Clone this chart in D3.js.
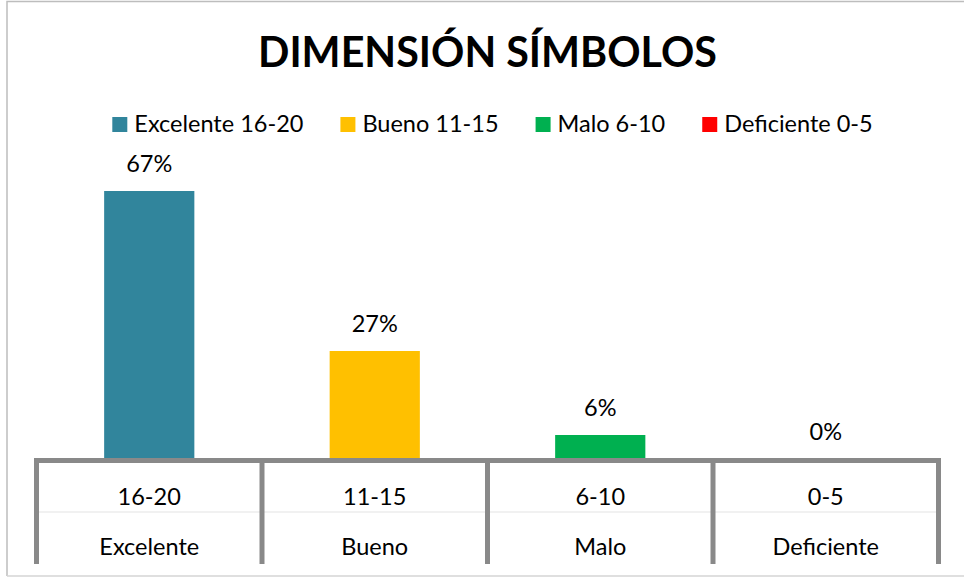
<!DOCTYPE html>
<html>
<head>
<meta charset="utf-8">
<script src="https://cdn.jsdelivr.net/npm/d3@7"></script>
<style>
  body { margin: 0; background: #fff; }
  svg { display: block; font-family: Lato, "Liberation Sans", sans-serif; }
</style>
</head>
<body>
<svg id="chart" width="964" height="577"></svg>
<script>
// datos
const titulo = 'DIMENSIÓN SÍMBOLOS'
const rangos = ['16-20', '11-15', '6-10', '0-5']
const niveles = ['Excelente', 'Bueno', 'Malo', 'Deficiente']
const porcentajes = [0.67, 0.27, 0.06, 0]
const colores = ['#31859C', '#FFC000', '#00B050', '#FF0000']

const svg = d3.select('#chart')
const fs = 23.5

// borde del area del grafico
svg.append('path')
    .attr('d', 'M7,576 L7,1.5 L964,1.5')
    .attr('fill', 'none')
    .attr('stroke', '#bdbdbd')
    .attr('stroke-width', 1.5)
svg.append('line')
    .attr('x1', 7).attr('x2', 964)
    .attr('y1', 576).attr('y2', 576)
    .attr('stroke', '#d4d4d4')
    .attr('stroke-width', 1.5)

const x = d3.scaleBand()
    .domain(rangos)
    .range([36.5, 938.5])
    .padding(0)

const y = d3.scaleLinear()
    .domain([0, 0.7])
    .range([459, 179])

const fmt = d3.format('.0%')

// titulo
svg.append('text')
    .attr('x', 487.5)
    .attr('y', 67)
    .attr('text-anchor', 'middle')
    .attr('font-size', 42)
    .attr('font-weight', 'bold')
    .attr('textLength', 459)
    .attr('lengthAdjust', 'spacingAndGlyphs')
    .attr('fill', '#000')
    .text(titulo)

// leyenda
let leyenda = svg.append('g').attr('class', 'legend')
let cx = 0
niveles.forEach((n, i) => {
    let g = leyenda.append('g').attr('transform', 'translate(' + cx + ',0)')
    g.append('rect')
        .attr('x', 0).attr('y', 117)
        .attr('width', 15).attr('height', 15)
        .attr('fill', colores[i])
    let t = g.append('text')
        .attr('x', 22).attr('y', 132)
        .attr('font-size', fs)
        .attr('fill', '#000')
        .text(n + ' ' + rangos[i])
    cx += 22 + t.node().getComputedTextLength() + 37
})
let anchoLeyenda = cx - 37
leyenda.attr('transform', 'translate(' + (492.5 - anchoLeyenda / 2) + ',0)')

// barras
const bw = x.bandwidth() * 0.4
svg.selectAll('.bar')
    .data(porcentajes)
    .enter()
    .append('rect')
    .attr('class', 'bar')
    .attr('x', (d, i) => x(rangos[i]) + (x.bandwidth() - bw) / 2)
    .attr('width', bw)
    .attr('y', d => y(d))
    .attr('height', d => y(0) - y(d))
    .attr('fill', (d, i) => colores[i])

// etiquetas de datos
svg.selectAll('.lbl')
    .data(porcentajes)
    .enter()
    .append('text')
    .attr('class', 'lbl')
    .attr('x', (d, i) => x(rangos[i]) + x.bandwidth() / 2)
    .attr('y', d => y(d) - 19)
    .attr('text-anchor', 'middle')
    .attr('font-size', fs)
    .attr('fill', '#000')
    .text(d => fmt(d))

// eje de categorias en dos niveles
const eje = svg.append('g')
eje.append('line')
    .attr('x1', x.range()[0]).attr('x2', x.range()[1])
    .attr('y1', 512).attr('y2', 512)
    .attr('stroke', '#e3e3e3')
    .attr('stroke-width', 1)
let bordes = rangos.map(r => x(r)).concat([x.range()[1]])
eje.selectAll('.tick')
    .data(bordes)
    .enter()
    .append('line')
    .attr('x1', d => d).attr('x2', d => d)
    .attr('y1', 458).attr('y2', 564)
    .attr('stroke', '#898989')
    .attr('stroke-width', 5)
eje.append('line')
    .attr('x1', x.range()[0]).attr('x2', x.range()[1])
    .attr('y1', 460.5).attr('y2', 460.5)
    .attr('stroke', '#898989')
    .attr('stroke-width', 5)

eje.selectAll('.rango')
    .data(rangos)
    .enter()
    .append('text')
    .attr('x', d => x(d) + x.bandwidth() / 2)
    .attr('y', 505)
    .attr('text-anchor', 'middle')
    .attr('font-size', fs)
    .attr('fill', '#000')
    .text(d => d)

eje.selectAll('.nivel')
    .data(niveles)
    .enter()
    .append('text')
    .attr('x', (d, i) => x(rangos[i]) + x.bandwidth() / 2)
    .attr('y', 555)
    .attr('text-anchor', 'middle')
    .attr('font-size', fs)
    .attr('fill', '#000')
    .text(d => d)
</script>
</body>
</html>
